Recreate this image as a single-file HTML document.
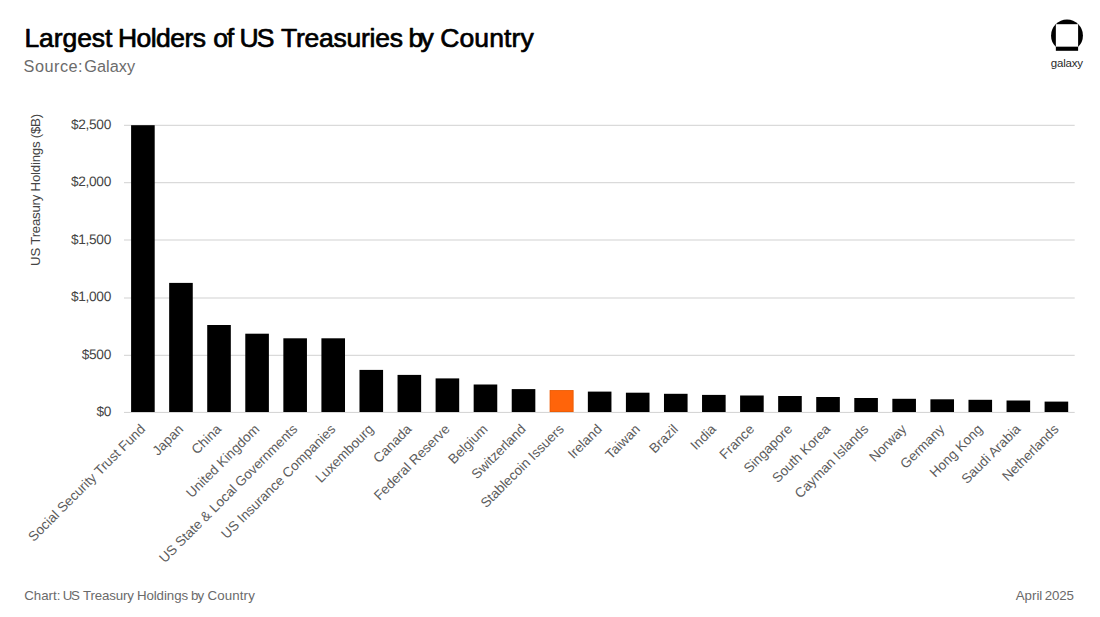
<!DOCTYPE html>
<html><head><meta charset="utf-8"><title>Largest Holders of US Treasuries by Country</title>
<style>
html,body{margin:0;padding:0;background:#fff;}
body{width:1100px;height:617px;overflow:hidden;font-family:"Liberation Sans",sans-serif;}
svg{display:block;}
text{font-family:"Liberation Sans",sans-serif;}
</style></head><body>
<svg width="1100" height="617" viewBox="0 0 1100 617">
<rect x="0" y="0" width="1100" height="617" fill="#ffffff"/>
<text y="47.0" font-size="26.5" fill="#000" stroke="#000" stroke-width="0.7" stroke-linejoin="round"><tspan x="24.4" textLength="88.0" lengthAdjust="spacing">Largest</tspan><tspan x="118.0" textLength="88.0" lengthAdjust="spacing">Holders</tspan><tspan x="213.2" textLength="21.0" lengthAdjust="spacing">of</tspan><tspan x="239.5" textLength="35.0" lengthAdjust="spacing">US</tspan><tspan x="281.0" textLength="122.0" lengthAdjust="spacing">Treasuries</tspan><tspan x="408.4" textLength="25.4" lengthAdjust="spacing">by</tspan><tspan x="440.2" textLength="93.5" lengthAdjust="spacing">Country</tspan></text>
<text y="71.8" font-size="16.3" fill="#6b6b6b"><tspan x="23.6" textLength="59.0" lengthAdjust="spacing">Source:</tspan><tspan x="84.2" textLength="51.0" lengthAdjust="spacing">Galaxy</tspan></text>
<g>
<circle cx="1067" cy="35.45" r="15.95" fill="#000"/>
<rect x="1050" y="46.8" width="34" height="6" fill="#fff"/>
<rect x="1055.85" y="24.2" width="22.25" height="22.6" fill="#fff"/>
<rect x="1055.85" y="46.8" width="22.25" height="4.0" fill="#000"/>
<text x="1066.8" y="66.8" font-size="11.5" text-anchor="middle" fill="#2a2a2a" letter-spacing="-0.2">galaxy</text>
</g>
<rect x="124.0" y="124.8" width="950.7" height="1" fill="#d2d2d2"/>
<rect x="124.0" y="182.2" width="950.7" height="1" fill="#d2d2d2"/>
<rect x="124.0" y="239.5" width="950.7" height="1" fill="#d2d2d2"/>
<rect x="124.0" y="297.5" width="950.7" height="1" fill="#d2d2d2"/>
<rect x="124.0" y="354.8" width="950.7" height="1" fill="#d2d2d2"/>
<rect x="124.0" y="411.9" width="950.7" height="1" fill="#d2d2d2"/>
<text x="111.0" y="129.00" font-size="13.7" text-anchor="end" fill="#444" letter-spacing="-0.3" style="text-rendering:geometricPrecision">$2,500</text>
<text x="111.0" y="186.40" font-size="13.7" text-anchor="end" fill="#444" letter-spacing="-0.3" style="text-rendering:geometricPrecision">$2,000</text>
<text x="111.0" y="243.80" font-size="13.7" text-anchor="end" fill="#444" letter-spacing="-0.3" style="text-rendering:geometricPrecision">$1,500</text>
<text x="111.0" y="301.20" font-size="13.7" text-anchor="end" fill="#444" letter-spacing="-0.3" style="text-rendering:geometricPrecision">$1,000</text>
<text x="111.0" y="358.60" font-size="13.7" text-anchor="end" fill="#444" letter-spacing="-0.3" style="text-rendering:geometricPrecision">$500</text>
<text x="111.0" y="416.00" font-size="13.7" text-anchor="end" fill="#444" letter-spacing="-0.3" style="text-rendering:geometricPrecision">$0</text>
<text transform="translate(39.9,189.9) rotate(-90)" font-size="13.3" text-anchor="middle" fill="#444" textLength="152" lengthAdjust="spacing">US Treasury Holdings ($B)</text>
<rect x="131.10" y="125.2" width="23.6" height="286.8" fill="#000"/>
<rect x="169.16" y="282.9" width="23.6" height="129.1" fill="#000"/>
<rect x="207.22" y="325.0" width="23.6" height="87.0" fill="#000"/>
<rect x="245.29" y="333.7" width="23.6" height="78.3" fill="#000"/>
<rect x="283.35" y="338.3" width="23.6" height="73.7" fill="#000"/>
<rect x="321.41" y="338.3" width="23.6" height="73.7" fill="#000"/>
<rect x="359.48" y="369.9" width="23.6" height="42.1" fill="#000"/>
<rect x="397.54" y="374.9" width="23.6" height="37.1" fill="#000"/>
<rect x="435.60" y="378.4" width="23.6" height="33.6" fill="#000"/>
<rect x="473.66" y="384.5" width="23.6" height="27.5" fill="#000"/>
<rect x="511.73" y="389.1" width="23.6" height="22.9" fill="#000"/>
<rect x="549.79" y="390.2" width="23.6" height="21.8" fill="#ff640a"/>
<rect x="550.14" y="390.55" width="22.90" height="21.10" fill="none" stroke="#e65a05" stroke-width="0.7"/>
<rect x="587.85" y="391.6" width="23.6" height="20.4" fill="#000"/>
<rect x="625.91" y="392.7" width="23.6" height="19.3" fill="#000"/>
<rect x="663.98" y="393.8" width="23.6" height="18.2" fill="#000"/>
<rect x="702.04" y="394.9" width="23.6" height="17.1" fill="#000"/>
<rect x="740.10" y="395.5" width="23.6" height="16.5" fill="#000"/>
<rect x="778.16" y="396.0" width="23.6" height="16.0" fill="#000"/>
<rect x="816.23" y="397.0" width="23.6" height="15.0" fill="#000"/>
<rect x="854.29" y="398.0" width="23.6" height="14.0" fill="#000"/>
<rect x="892.35" y="398.8" width="23.6" height="13.2" fill="#000"/>
<rect x="930.41" y="399.3" width="23.6" height="12.7" fill="#000"/>
<rect x="968.48" y="399.8" width="23.6" height="12.2" fill="#000"/>
<rect x="1006.54" y="400.5" width="23.6" height="11.5" fill="#000"/>
<rect x="1044.60" y="401.6" width="23.6" height="10.4" fill="#000"/>
<text transform="translate(146.03,430.0) rotate(-45)" font-size="13.6" text-anchor="end" fill="#5c5c5c">Social Security Trust Fund</text>
<text transform="translate(184.09,430.0) rotate(-45)" font-size="13.6" text-anchor="end" fill="#5c5c5c">Japan</text>
<text transform="translate(222.16,430.0) rotate(-45)" font-size="13.6" text-anchor="end" fill="#5c5c5c">China</text>
<text transform="translate(260.22,430.0) rotate(-45)" font-size="13.6" text-anchor="end" fill="#5c5c5c">United Kingdom</text>
<text transform="translate(298.28,430.0) rotate(-45)" font-size="13.6" text-anchor="end" fill="#5c5c5c">US State &amp; Local Governments</text>
<text transform="translate(336.34,430.0) rotate(-45)" font-size="13.6" text-anchor="end" fill="#5c5c5c">US Insurance Companies</text>
<text transform="translate(374.41,430.0) rotate(-45)" font-size="13.6" text-anchor="end" fill="#5c5c5c">Luxembourg</text>
<text transform="translate(412.47,430.0) rotate(-45)" font-size="13.6" text-anchor="end" fill="#5c5c5c">Canada</text>
<text transform="translate(450.53,430.0) rotate(-45)" font-size="13.6" text-anchor="end" fill="#5c5c5c">Federal Reserve</text>
<text transform="translate(488.59,430.0) rotate(-45)" font-size="13.6" text-anchor="end" fill="#5c5c5c">Belgium</text>
<text transform="translate(526.66,430.0) rotate(-45)" font-size="13.6" text-anchor="end" fill="#5c5c5c">Switzerland</text>
<text transform="translate(564.72,430.0) rotate(-45)" font-size="13.6" text-anchor="end" fill="#5c5c5c">Stablecoin Issuers</text>
<text transform="translate(602.78,430.0) rotate(-45)" font-size="13.6" text-anchor="end" fill="#5c5c5c">Ireland</text>
<text transform="translate(640.84,430.0) rotate(-45)" font-size="13.6" text-anchor="end" fill="#5c5c5c">Taiwan</text>
<text transform="translate(678.91,430.0) rotate(-45)" font-size="13.6" text-anchor="end" fill="#5c5c5c">Brazil</text>
<text transform="translate(716.97,430.0) rotate(-45)" font-size="13.6" text-anchor="end" fill="#5c5c5c">India</text>
<text transform="translate(755.03,430.0) rotate(-45)" font-size="13.6" text-anchor="end" fill="#5c5c5c">France</text>
<text transform="translate(793.09,430.0) rotate(-45)" font-size="13.6" text-anchor="end" fill="#5c5c5c">Singapore</text>
<text transform="translate(831.16,430.0) rotate(-45)" font-size="13.6" text-anchor="end" fill="#5c5c5c">South Korea</text>
<text transform="translate(869.22,430.0) rotate(-45)" font-size="13.6" text-anchor="end" fill="#5c5c5c">Cayman Islands</text>
<text transform="translate(907.28,430.0) rotate(-45)" font-size="13.6" text-anchor="end" fill="#5c5c5c">Norway</text>
<text transform="translate(945.34,430.0) rotate(-45)" font-size="13.6" text-anchor="end" fill="#5c5c5c">Germany</text>
<text transform="translate(983.41,430.0) rotate(-45)" font-size="13.6" text-anchor="end" fill="#5c5c5c">Hong Kong</text>
<text transform="translate(1021.47,430.0) rotate(-45)" font-size="13.6" text-anchor="end" fill="#5c5c5c">Saudi Arabia</text>
<text transform="translate(1059.53,430.0) rotate(-45)" font-size="13.6" text-anchor="end" fill="#5c5c5c">Netherlands</text>
<text y="599.6" font-size="13.3" fill="#6a6a6a"><tspan x="24.2" textLength="36.2" lengthAdjust="spacing">Chart:</tspan><tspan x="62.8" textLength="17.0" lengthAdjust="spacing">US</tspan><tspan x="83.0" textLength="51.0" lengthAdjust="spacing">Treasury</tspan><tspan x="136.9" textLength="51.2" lengthAdjust="spacing">Holdings</tspan><tspan x="190.9" textLength="13.3" lengthAdjust="spacing">by</tspan><tspan x="207.5" textLength="47.3" lengthAdjust="spacing">Country</tspan></text>
<text y="599.6" font-size="13.3" fill="#6a6a6a"><tspan x="1015.7" textLength="26.6" lengthAdjust="spacing">April</tspan><tspan x="1044.8" textLength="29.2" lengthAdjust="spacing">2025</tspan></text>
</svg>
</body></html>
